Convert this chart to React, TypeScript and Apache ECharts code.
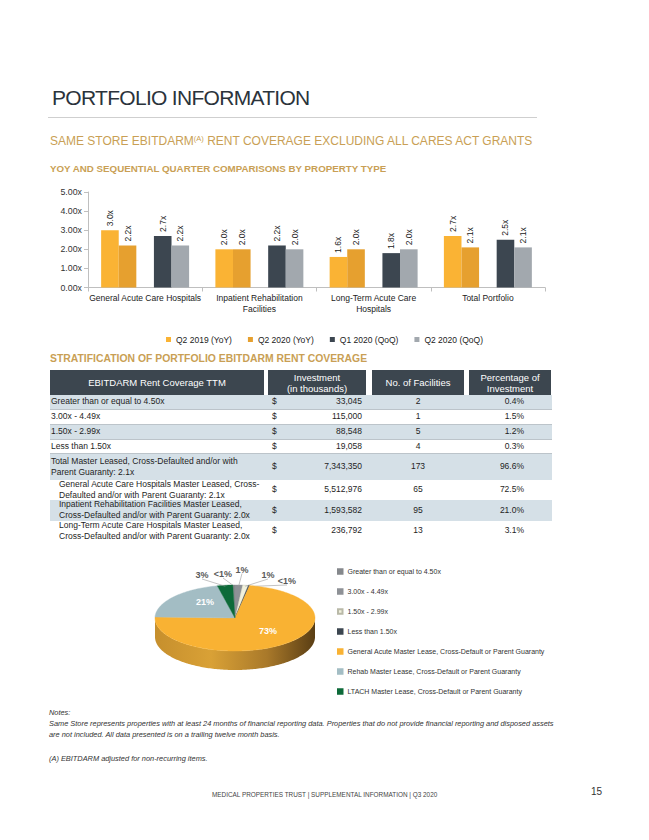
import React, { useEffect, useRef } from 'react';
import * as echarts from 'echarts';

// ---------------- Bar chart data ----------------
const barCategories = ['General Acute Care Hospitals', 'Inpatient Rehabilitation\nFacilities', 'Long-Term Acute Care\nHospitals', 'Total Portfolio'];
const barSeriesNames = ['Q2 2019 (YoY)', 'Q2 2020 (YoY)', 'Q1 2020 (QoQ)', 'Q2 2020 (QoQ)'];
const q2_2019_yoy = [3.0, 2.0, 1.6, 2.7];
const q2_2020_yoy = [2.2, 2.0, 2.0, 2.1];
const q1_2020_qoq = [2.7, 2.2, 1.8, 2.5];
const q2_2020_qoq = [2.2, 2.0, 2.0, 2.1];
const spacerSeries = [null, null, null, null];
const yAxisMin = 0;
const yAxisMax = 5;
const yAxisStep = 1;

// ---------------- Table data ----------------
const tableHeaders = ['EBITDARM Rent Coverage TTM', 'Investment\n(in thousands)', 'No. of Facilities', 'Percentage of\nInvestment'];
const rowLabels = [
  'Greater than or equal to 4.50x',
  '3.00x - 4.49x',
  '1.50x - 2.99x',
  'Less than 1.50x',
  'Total Master Leased, Cross-Defaulted and/or with\nParent Guaranty: 2.1x',
  'General Acute Care Hospitals Master Leased, Cross-\nDefaulted and/or with Parent Guaranty: 2.1x',
  'Inpatient Rehabilitation Facilities Master Leased,\nCross-Defaulted and/or with Parent Guaranty: 2.0x',
  'Long-Term Acute Care Hospitals Master Leased,\nCross-Defaulted and/or with Parent Guaranty: 2.0x',
];
const rowIndented = [false, false, false, false, false, true, true, true];
const investments = [33045, 115000, 88548, 19058, 7343350, 5512976, 1593582, 236792];
const facilities = [2, 1, 5, 4, 173, 65, 95, 13];
const percentOfInvestment = [0.4, 1.5, 1.2, 0.3, 96.6, 72.5, 21.0, 3.1];

// ---------------- Pie data ----------------
const pieNames = [
  'Greater than or equal to 4.50x',
  '3.00x - 4.49x',
  '1.50x - 2.99x',
  'Less than 1.50x',
  'General Acute Master Lease, Cross-Default or Parent Guaranty',
  'Rehab Master Lease, Cross-Default or Parent Guaranty',
  'LTACH Master Lease, Cross-Default or Parent Guaranty',
];
const pieValues = [33045, 115000, 88548, 19058, 5512976, 1593582, 236792];
const pieLabels = ['<1%', '1%', '1%', '<1%', '73%', '21%', '3%'];

// ---------------- Styles ----------------
const FONT = '"Liberation Sans", Arial, Helvetica, sans-serif';
const GOLD = '#c99f55';
const barColors = ['#fab334', '#e6a02f', '#3c4650', '#a2a8ae'];
const pieColors = ['#85888c', '#8e9196', '#f1f1dc', '#3c4650', '#f9b233', '#a3bdc4', '#0d6a39'];
const pieBorders = ['#85888c', '#8e9196', '#b9b9a8', '#3c4650', '#f9b233', '#a3bdc4', '#0d6a39'];
const PIE_CX = 235;
const PIE_CY = 68;
const PIE_RX = 80;
const PIE_RY = 33;
const PIE_DEPTH = 19;
// label placement [x, y, outside?] in chart pixels
const pieLabelPos: [number, number, boolean][] = [
  [223, 24, true],
  [242, 19.5, true],
  [268, 25, true],
  [287, 31, true],
  [268, 81, false],
  [205, 51.5, false],
  [202, 25, true],
];

function EChart({ option, style }: { option: any; style: React.CSSProperties }) {
  const ref = useRef<HTMLDivElement>(null);
  useEffect(() => {
    const chart = echarts.init(ref.current!, undefined, { renderer: 'svg' });
    chart.setOption(option);
    return () => chart.dispose();
  }, []);
  return <div ref={ref} style={style} />;
}

function barOption() {
  const data = [q2_2019_yoy, q2_2020_yoy, q1_2020_qoq, q2_2020_qoq];
  const mk = (i: number) => ({
    type: 'bar',
    name: barSeriesNames[i],
    data: data[i],
    itemStyle: { color: barColors[i] },
    label: {
      show: true,
      position: 'top',
      rotate: 90,
      align: 'left',
      verticalAlign: 'middle',
      distance: 4,
      fontSize: 8.5,
      color: '#222',
      formatter: (p: any) => Number(p.value).toFixed(1) + 'x',
    },
  });
  return {
    animation: false,
    textStyle: { fontFamily: FONT },
    grid: { left: 88, top: 42, width: 457, height: 95.5 },
    legend: {
      data: barSeriesNames,
      top: 180,
      left: 'center',
      icon: 'rect',
      itemWidth: 5,
      itemHeight: 5,
      itemGap: 16,
      selectedMode: false,
      textStyle: { fontSize: 8.5, color: '#222', fontFamily: FONT },
    },
    xAxis: {
      type: 'category',
      data: barCategories,
      axisLine: { lineStyle: { color: '#bfbfbf' } },
      axisTick: { show: true, length: 4, lineStyle: { color: '#bfbfbf' } },
      axisLabel: { interval: 0, fontSize: 8.5, color: '#222', margin: 5, lineHeight: 11 },
    },
    yAxis: {
      type: 'value',
      min: yAxisMin,
      max: yAxisMax,
      interval: yAxisStep,
      axisLine: { show: true, lineStyle: { color: '#bfbfbf' } },
      axisTick: { show: true, length: 4, lineStyle: { color: '#bfbfbf' } },
      splitLine: { show: false },
      axisLabel: { fontSize: 8.8, color: '#333', margin: 6, formatter: (v: number) => v.toFixed(2) + 'x' },
    },
    series: [
      { ...mk(0), barGap: '0%', barCategoryGap: '23%' },
      mk(1),
      { type: 'bar', name: 'spacer', data: spacerSeries, itemStyle: { color: 'transparent' } },
      mk(2),
      mk(3),
    ],
  };
}

function pieOption() {
  const total = pieValues.reduce((a, b) => a + b, 0);
  const starts: number[] = [];
  const ends: number[] = [];
  let acc = -(pieValues[0] / total) * 2 * Math.PI;
  pieValues.forEach((v) => {
    starts.push(acc);
    acc += (v / total) * 2 * Math.PI;
    ends.push(acc);
  });
  const arc = (s: number, e: number, dy: number) => {
    const n = Math.max(2, Math.ceil((e - s) / 0.02));
    const pts: number[][] = [];
    for (let k = 0; k <= n; k++) {
      const t = s + ((e - s) * k) / n;
      pts.push([PIE_CX + PIE_RX * Math.sin(t), PIE_CY - PIE_RY * Math.cos(t) + dy]);
    }
    return pts;
  };
  const sideFill = (i: number) =>
    i === 4
      ? new echarts.graphic.LinearGradient(0, 0, 1, 0, [
          { offset: 0, color: '#c68f2d' },
          { offset: 0.35, color: '#d9a136' },
          { offset: 0.7, color: '#a9792a' },
          { offset: 1, color: '#5a3e14' },
        ])
      : pieBorders[i];
  const makeRender = (i: number) => () => {
    const a0 = starts[i];
    const a1 = ends[i];
    const children: any[] = [];
    const s = Math.max(a0, Math.PI / 2);
    const e = Math.min(a1, (3 * Math.PI) / 2);
    if (e > s) {
      const top = arc(s, e, 0);
      const bot = arc(s, e, PIE_DEPTH).reverse();
      children.push({ type: 'polygon', shape: { points: top.concat(bot) }, style: { fill: sideFill(i) } });
    }
    children.push({
      type: 'polygon',
      shape: { points: [[PIE_CX, PIE_CY], ...arc(a0, a1, 0)] },
      style: { fill: pieColors[i], stroke: pieBorders[i], lineWidth: 0.4 },
    });
    const [lx, ly, outside] = pieLabelPos[i];
    if (outside) {
      const m = (a0 + a1) / 2;
      children.push({
        type: 'line',
        shape: { x1: lx, y1: ly + 4, x2: PIE_CX + PIE_RX * Math.sin(m) * 0.97, y2: PIE_CY - PIE_RY * Math.cos(m) * 0.97 },
        style: { stroke: '#9a9a9a', lineWidth: 0.6 },
      });
    }
    children.push({
      type: 'text',
      style: {
        text: pieLabels[i],
        x: lx,
        y: ly,
        align: 'center',
        verticalAlign: 'middle',
        fill: outside ? '#5a5a5a' : '#ffffff',
        fontSize: 9,
        fontWeight: 'bold',
        fontFamily: FONT,
      },
    });
    return { type: 'group', children };
  };
  return {
    animation: false,
    textStyle: { fontFamily: FONT },
    legend: {
      data: pieNames,
      orient: 'vertical',
      left: 332,
      top: 12.5,
      icon: 'rect',
      itemWidth: 4.5,
      itemHeight: 4.5,
      itemGap: 12,
      selectedMode: false,
      textStyle: { fontSize: 7, color: '#333', fontFamily: FONT, lineHeight: 8 },
    },
    series: pieNames.map((name, i) => ({
      type: 'custom',
      name,
      coordinateSystem: 'none',
      data: [pieValues[i]],
      itemStyle: { color: pieColors[i], borderColor: pieBorders[i], borderWidth: 0.5 },
      renderItem: makeRender(i),
    })),
  };
}

const topFor = (baseline: number, size: number) => baseline - 0.8465 * size;

function Text({ x, baseline, size, style, children }: any) {
  return (
    <div
      style={{
        position: 'absolute',
        left: x,
        top: topFor(baseline, size),
        fontSize: size,
        lineHeight: size + 'px',
        whiteSpace: 'nowrap',
        ...style,
      }}
    >
      {children}
    </div>
  );
}

function Cell({ left, width, align, children }: any) {
  return (
    <div
      style={{
        position: 'absolute',
        left,
        top: 0,
        width,
        height: '100%',
        display: 'flex',
        alignItems: 'center',
        justifyContent: align === 'right' ? 'flex-end' : align === 'center' ? 'center' : 'flex-start',
        textAlign: align || 'left',
        whiteSpace: 'pre-line',
        lineHeight: '11.2px',
      }}
    >
      {children}
    </div>
  );
}

const headerCols = [
  [50, 214],
  [268, 98],
  [372, 92],
  [469, 82],
];
const rowTops = [395, 410, 424.8, 439.6, 454.4, 479.6, 500.2, 520.8];
const rowHeights = [15, 14.8, 14.8, 14.8, 25.2, 20.6, 20.6, 20.6];

export default function App() {
  return (
    <div
      style={{
        position: 'absolute',
        left: 0,
        top: 0,
        width: 649,
        height: 840,
        background: '#fff',
        fontFamily: FONT,
        overflow: 'hidden',
        color: '#222',
      }}
    >
      <Text x={52} baseline={105} size={21} style={{ color: '#2b333b', letterSpacing: -0.7 }}>
        PORTFOLIO INFORMATION
      </Text>
      <div style={{ position: 'absolute', left: 48, top: 117, width: 489, height: 1, background: '#cfcfcf' }} />
      <Text x={50} baseline={145.3} size={12} style={{ color: GOLD }}>
        SAME STORE EBITDARM<sup style={{ fontSize: 7.5, verticalAlign: 'top', lineHeight: '7px' }}>(A)</sup> RENT COVERAGE EXCLUDING ALL CARES ACT GRANTS
      </Text>
      <Text x={50} baseline={172.7} size={9.75} style={{ color: GOLD, fontWeight: 'bold' }}>
        YOY AND SEQUENTIAL QUARTER COMPARISONS BY PROPERTY TYPE
      </Text>

      <EChart option={barOption()} style={{ position: 'absolute', left: 0, top: 150, width: 649, height: 205 }} />

      <Text x={50} baseline={362.7} size={10.4} style={{ color: GOLD, fontWeight: 'bold' }}>
        STRATIFICATION OF PORTFOLIO EBITDARM RENT COVERAGE
      </Text>

      {tableHeaders.map((h, i) => (
        <div
          key={'h' + i}
          style={{
            position: 'absolute',
            left: headerCols[i][0],
            top: 370,
            width: headerCols[i][1],
            height: 25,
            background: '#3c464f',
            color: '#fff',
            fontSize: 9.5,
            lineHeight: '11px',
            display: 'flex',
            alignItems: 'center',
            justifyContent: 'center',
            textAlign: 'center',
            whiteSpace: 'pre-line',
          }}
        >
          {h}
        </div>
      ))}

      {rowLabels.map((lab, i) => (
        <div
          key={'r' + i}
          style={{
            position: 'absolute',
            left: 50,
            top: rowTops[i],
            width: 502,
            height: rowHeights[i],
            background: i % 2 === 0 ? '#d5e0e7' : '#ffffff',
            borderBottom: i < 4 ? '1px solid #bcc4ca' : 'none',
            boxSizing: 'border-box',
            fontSize: 8.5,
            color: '#1e1e1e',
          }}
        >
          <Cell left={rowIndented[i] ? 9 : 1} width={215} align="left">
            {lab}
          </Cell>
          <Cell left={222} width={10} align="left">
            $
          </Cell>
          <Cell left={230} width={82} align="right">
            {investments[i].toLocaleString('en-US')}
          </Cell>
          <Cell left={338} width={60} align="center">
            {facilities[i]}
          </Cell>
          <Cell left={424} width={50} align="right">
            {percentOfInvestment[i].toFixed(1) + '%'}
          </Cell>
        </div>
      ))}

      <EChart option={pieOption()} style={{ position: 'absolute', left: 0, top: 550, width: 649, height: 160 }} />

      <Text x={49} baseline={715} size={7.4} style={{ fontStyle: 'italic', color: '#333' }}>
        Notes:
      </Text>
      <Text x={49} baseline={726.5} size={7.4} style={{ fontStyle: 'italic', color: '#333' }}>
        Same Store represents properties with at least 24 months of financial reporting data. Properties that do not provide financial reporting and disposed assets
      </Text>
      <Text x={49} baseline={737.5} size={7.4} style={{ fontStyle: 'italic', color: '#333' }}>
        are not included. All data presented is on a trailing twelve month basis.
      </Text>
      <Text x={49} baseline={761} size={7.4} style={{ fontStyle: 'italic', color: '#333' }}>
        (A) EBITDARM adjusted for non-recurring items.
      </Text>

      <Text x={212} baseline={797} size={6.4} style={{ color: '#444' }}>
        MEDICAL PROPERTIES TRUST | SUPPLEMENTAL INFORMATION | Q3 2020
      </Text>
      <Text x={591} baseline={795} size={10} style={{ color: '#333' }}>
        15
      </Text>
    </div>
  );
}
